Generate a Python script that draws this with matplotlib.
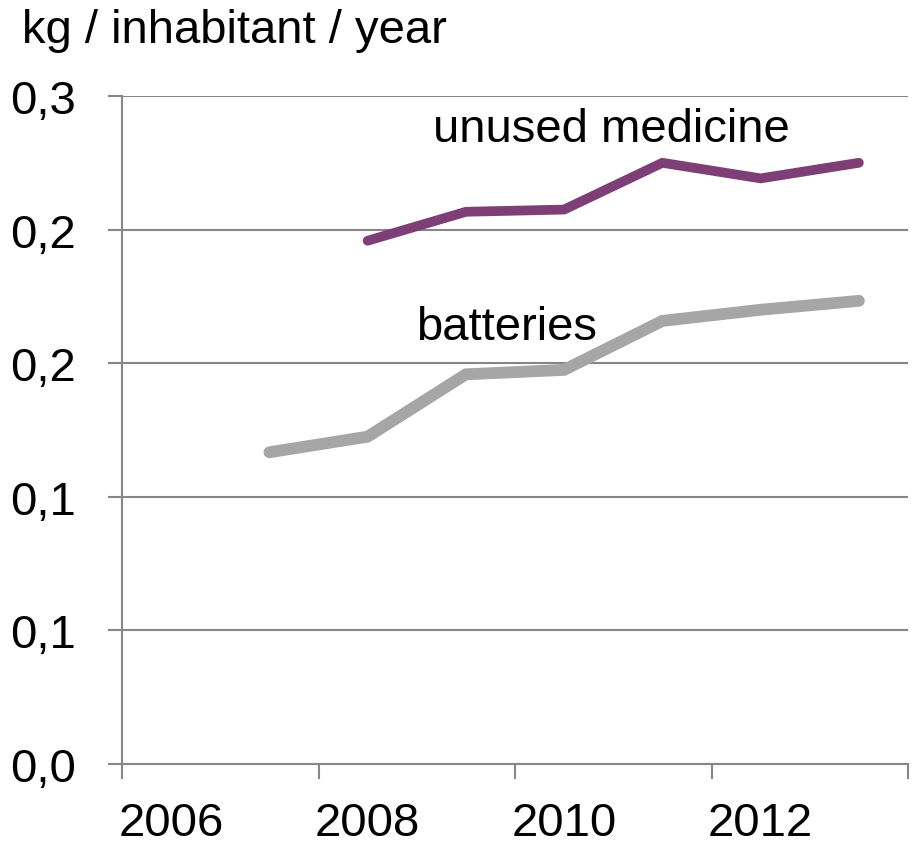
import numpy as np
import matplotlib.pyplot as plt
from matplotlib.ticker import FixedLocator

plt.rcParams['font.family'] = ['Liberation Sans', 'DejaVu Sans']

# waste collected per inhabitant, kg / year
years_batteries = [2007, 2008, 2009, 2010, 2011, 2012, 2013]
batteries = [0.140, 0.147, 0.175, 0.177, 0.199, 0.204, 0.208]
years_medicine = [2008, 2009, 2010, 2011, 2012, 2013]
medicine = [0.235, 0.248, 0.249, 0.270, 0.263, 0.270]

y_ticks = [0.0, 0.06, 0.12, 0.18, 0.24, 0.30]
y_labels = ["0,0", "0,1", "0,1", "0,2", "0,2", "0,3"]
x_labels = [2006, 2008, 2010, 2012]

GRID = "#868686"
FS = 34

fig = plt.figure(figsize=(9.14, 8.45), dpi=100)
ax = fig.add_axes([122 / 914, 1 - 765 / 845, 786 / 914, 668 / 845])

ax.plot(years_batteries, batteries, color="#a6a6a6", lw=8.5,
        solid_capstyle="round", solid_joinstyle="miter", zorder=3)
ax.plot(years_medicine, medicine, color="#7d3f75", lw=7,
        solid_capstyle="round", solid_joinstyle="miter", zorder=3)

ax.text(2010.48, 0.2852, "unused medicine", fontsize=FS, ha="center", va="center")
ax.text(2009.41, 0.1963, "batteries", fontsize=FS, ha="center", va="center")

ax.set_xlim(2005.5, 2013.5)
ax.set_ylim(0, 0.3)

ax.set_yticks(y_ticks)
ax.set_yticklabels(y_labels)
ax.yaxis.grid(True, color=GRID, lw=1.5)
ax.set_axisbelow(True)

# tick marks sit on category boundaries, labels on category centres
ax.xaxis.set_major_locator(FixedLocator(np.arange(2005.5, 2014, 2)))
ax.xaxis.set_minor_locator(FixedLocator(x_labels))
ax.set_xticklabels([], minor=False)
ax.set_xticklabels([str(y) for y in x_labels], minor=True)

ax.tick_params(axis="x", which="major", length=11, width=1.5, color=GRID)
ax.tick_params(axis="x", which="minor", length=0, pad=27, labelsize=FS)
ax.tick_params(axis="y", length=10, width=1.5, color=GRID, pad=23, labelsize=FS)

for side in ("top", "right"):
    ax.spines[side].set_visible(False)
for side in ("left", "bottom"):
    ax.spines[side].set_color(GRID)
    ax.spines[side].set_linewidth(1.5)

fig.text(22 / 914, 1 - 43 / 845, "kg / inhabitant / year", fontsize=FS,
         ha="left", va="baseline")

fig.savefig("out.png", dpi=100)
